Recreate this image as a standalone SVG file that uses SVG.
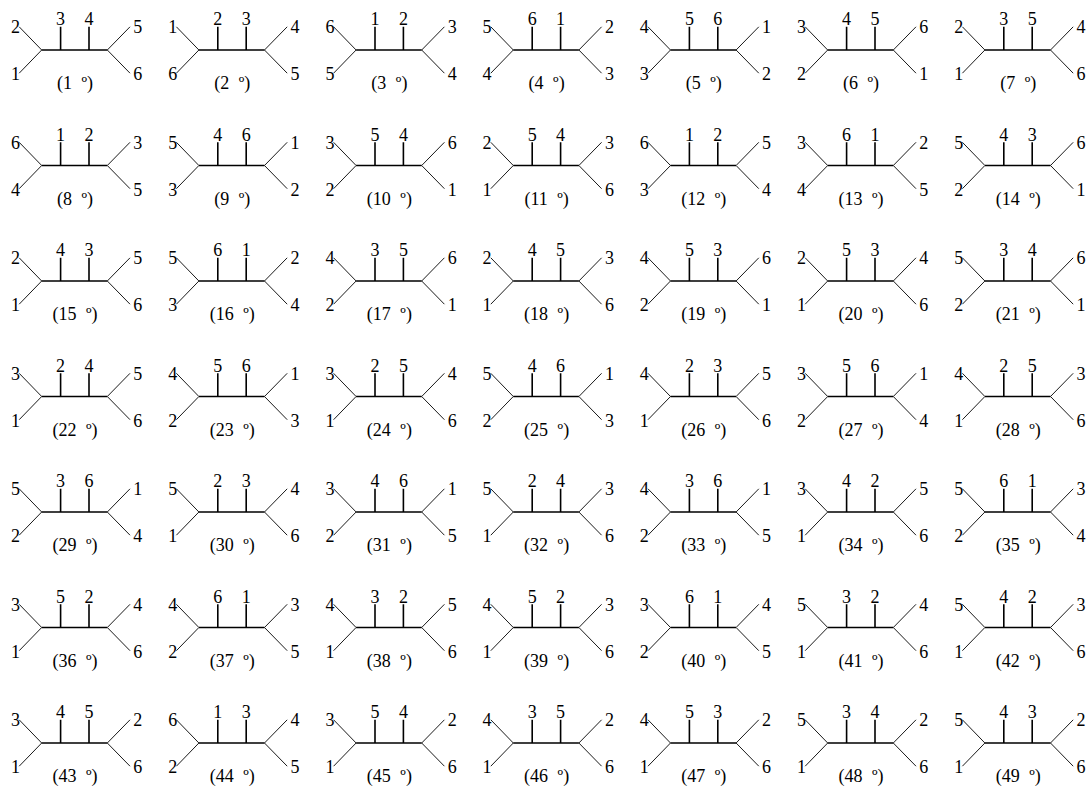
<svg xmlns="http://www.w3.org/2000/svg" width="1088" height="788" viewBox="0 0 1088 788">
<style>
.e{text-anchor:end}.m{text-anchor:middle}
.thk{stroke:#000;stroke-width:1.6;fill:none}
.thn{stroke:#000;stroke-width:0.9;fill:none}
text{font-family:"Liberation Serif","Times New Roman",Tinos,"DejaVu Serif",serif;font-size:18px;fill:#000}
</style>
<defs>
<g id="sk">
<path class="thk" d="M-32.8,0H32.8M-13.9,0V-23.3M14.5,0V-23.3"/>
<path class="thn" d="M-55.3,-23.2L-32.8,0L-55.3,23.2M55.5,-23.2L32.8,0L55.5,23.2"/>
</g>
</defs>
<rect width="1088" height="788" fill="#fff"/>
<g id="connectors">
<use href="#sk" x="74.5" y="50"/><use href="#sk" x="231.7" y="50"/><use href="#sk" x="388.9" y="50"/><use href="#sk" x="546.1" y="50"/><use href="#sk" x="703.3" y="50"/><use href="#sk" x="860.5" y="50"/><use href="#sk" x="1017.7" y="50"/>
<use href="#sk" x="74.5" y="165.5"/><use href="#sk" x="231.7" y="165.5"/><use href="#sk" x="388.9" y="165.5"/><use href="#sk" x="546.1" y="165.5"/><use href="#sk" x="703.3" y="165.5"/><use href="#sk" x="860.5" y="165.5"/><use href="#sk" x="1017.7" y="165.5"/>
<use href="#sk" x="74.5" y="281"/><use href="#sk" x="231.7" y="281"/><use href="#sk" x="388.9" y="281"/><use href="#sk" x="546.1" y="281"/><use href="#sk" x="703.3" y="281"/><use href="#sk" x="860.5" y="281"/><use href="#sk" x="1017.7" y="281"/>
<use href="#sk" x="74.5" y="396.5"/><use href="#sk" x="231.7" y="396.5"/><use href="#sk" x="388.9" y="396.5"/><use href="#sk" x="546.1" y="396.5"/><use href="#sk" x="703.3" y="396.5"/><use href="#sk" x="860.5" y="396.5"/><use href="#sk" x="1017.7" y="396.5"/>
<use href="#sk" x="74.5" y="512"/><use href="#sk" x="231.7" y="512"/><use href="#sk" x="388.9" y="512"/><use href="#sk" x="546.1" y="512"/><use href="#sk" x="703.3" y="512"/><use href="#sk" x="860.5" y="512"/><use href="#sk" x="1017.7" y="512"/>
<use href="#sk" x="74.5" y="627.5"/><use href="#sk" x="231.7" y="627.5"/><use href="#sk" x="388.9" y="627.5"/><use href="#sk" x="546.1" y="627.5"/><use href="#sk" x="703.3" y="627.5"/><use href="#sk" x="860.5" y="627.5"/><use href="#sk" x="1017.7" y="627.5"/>
<use href="#sk" x="74.5" y="743"/><use href="#sk" x="231.7" y="743"/><use href="#sk" x="388.9" y="743"/><use href="#sk" x="546.1" y="743"/><use href="#sk" x="703.3" y="743"/><use href="#sk" x="860.5" y="743"/><use href="#sk" x="1017.7" y="743"/>
</g>
<g id="labels">
<g id="t1" transform="translate(74.5,50)"><text class="e" x="-54.5" y="-16.7">2</text><text class="e" x="-54.5" y="30">1</text><text class="m" x="-13.9" y="-25">3</text><text class="m" x="14.5" y="-25">4</text><text x="58.8" y="-16.7">5</text><text x="58.8" y="30">6</text><text class="m" x="0.5" y="39.3">(1<tspan dx="5"> º)</tspan></text></g>
<g id="t2" transform="translate(231.7,50)"><text class="e" x="-54.5" y="-16.7">1</text><text class="e" x="-54.5" y="30">6</text><text class="m" x="-13.9" y="-25">2</text><text class="m" x="14.5" y="-25">3</text><text x="58.8" y="-16.7">4</text><text x="58.8" y="30">5</text><text class="m" x="0.5" y="39.3">(2<tspan dx="5"> º)</tspan></text></g>
<g id="t3" transform="translate(388.9,50)"><text class="e" x="-54.5" y="-16.7">6</text><text class="e" x="-54.5" y="30">5</text><text class="m" x="-13.9" y="-25">1</text><text class="m" x="14.5" y="-25">2</text><text x="58.8" y="-16.7">3</text><text x="58.8" y="30">4</text><text class="m" x="0.5" y="39.3">(3<tspan dx="5"> º)</tspan></text></g>
<g id="t4" transform="translate(546.1,50)"><text class="e" x="-54.5" y="-16.7">5</text><text class="e" x="-54.5" y="30">4</text><text class="m" x="-13.9" y="-25">6</text><text class="m" x="14.5" y="-25">1</text><text x="58.8" y="-16.7">2</text><text x="58.8" y="30">3</text><text class="m" x="0.5" y="39.3">(4<tspan dx="5"> º)</tspan></text></g>
<g id="t5" transform="translate(703.3,50)"><text class="e" x="-54.5" y="-16.7">4</text><text class="e" x="-54.5" y="30">3</text><text class="m" x="-13.9" y="-25">5</text><text class="m" x="14.5" y="-25">6</text><text x="58.8" y="-16.7">1</text><text x="58.8" y="30">2</text><text class="m" x="0.5" y="39.3">(5<tspan dx="5"> º)</tspan></text></g>
<g id="t6" transform="translate(860.5,50)"><text class="e" x="-54.5" y="-16.7">3</text><text class="e" x="-54.5" y="30">2</text><text class="m" x="-13.9" y="-25">4</text><text class="m" x="14.5" y="-25">5</text><text x="58.8" y="-16.7">6</text><text x="58.8" y="30">1</text><text class="m" x="0.5" y="39.3">(6<tspan dx="5"> º)</tspan></text></g>
<g id="t7" transform="translate(1017.7,50)"><text class="e" x="-54.5" y="-16.7">2</text><text class="e" x="-54.5" y="30">1</text><text class="m" x="-13.9" y="-25">3</text><text class="m" x="14.5" y="-25">5</text><text x="58.8" y="-16.7">4</text><text x="58.8" y="30">6</text><text class="m" x="0.5" y="39.3">(7<tspan dx="5"> º)</tspan></text></g>
<g id="t8" transform="translate(74.5,165.5)"><text class="e" x="-54.5" y="-16.7">6</text><text class="e" x="-54.5" y="30">4</text><text class="m" x="-13.9" y="-25">1</text><text class="m" x="14.5" y="-25">2</text><text x="58.8" y="-16.7">3</text><text x="58.8" y="30">5</text><text class="m" x="0.5" y="39.3">(8<tspan dx="5"> º)</tspan></text></g>
<g id="t9" transform="translate(231.7,165.5)"><text class="e" x="-54.5" y="-16.7">5</text><text class="e" x="-54.5" y="30">3</text><text class="m" x="-13.9" y="-25">4</text><text class="m" x="14.5" y="-25">6</text><text x="58.8" y="-16.7">1</text><text x="58.8" y="30">2</text><text class="m" x="0.5" y="39.3">(9<tspan dx="5"> º)</tspan></text></g>
<g id="t10" transform="translate(388.9,165.5)"><text class="e" x="-54.5" y="-16.7">3</text><text class="e" x="-54.5" y="30">2</text><text class="m" x="-13.9" y="-25">5</text><text class="m" x="14.5" y="-25">4</text><text x="58.8" y="-16.7">6</text><text x="58.8" y="30">1</text><text class="m" x="0.5" y="39.3">(10<tspan dx="5"> º)</tspan></text></g>
<g id="t11" transform="translate(546.1,165.5)"><text class="e" x="-54.5" y="-16.7">2</text><text class="e" x="-54.5" y="30">1</text><text class="m" x="-13.9" y="-25">5</text><text class="m" x="14.5" y="-25">4</text><text x="58.8" y="-16.7">3</text><text x="58.8" y="30">6</text><text class="m" x="0.5" y="39.3">(11<tspan dx="5"> º)</tspan></text></g>
<g id="t12" transform="translate(703.3,165.5)"><text class="e" x="-54.5" y="-16.7">6</text><text class="e" x="-54.5" y="30">3</text><text class="m" x="-13.9" y="-25">1</text><text class="m" x="14.5" y="-25">2</text><text x="58.8" y="-16.7">5</text><text x="58.8" y="30">4</text><text class="m" x="0.5" y="39.3">(12<tspan dx="5"> º)</tspan></text></g>
<g id="t13" transform="translate(860.5,165.5)"><text class="e" x="-54.5" y="-16.7">3</text><text class="e" x="-54.5" y="30">4</text><text class="m" x="-13.9" y="-25">6</text><text class="m" x="14.5" y="-25">1</text><text x="58.8" y="-16.7">2</text><text x="58.8" y="30">5</text><text class="m" x="0.5" y="39.3">(13<tspan dx="5"> º)</tspan></text></g>
<g id="t14" transform="translate(1017.7,165.5)"><text class="e" x="-54.5" y="-16.7">5</text><text class="e" x="-54.5" y="30">2</text><text class="m" x="-13.9" y="-25">4</text><text class="m" x="14.5" y="-25">3</text><text x="58.8" y="-16.7">6</text><text x="58.8" y="30">1</text><text class="m" x="0.5" y="39.3">(14<tspan dx="5"> º)</tspan></text></g>
<g id="t15" transform="translate(74.5,281)"><text class="e" x="-54.5" y="-16.7">2</text><text class="e" x="-54.5" y="30">1</text><text class="m" x="-13.9" y="-25">4</text><text class="m" x="14.5" y="-25">3</text><text x="58.8" y="-16.7">5</text><text x="58.8" y="30">6</text><text class="m" x="0.5" y="39.3">(15<tspan dx="5"> º)</tspan></text></g>
<g id="t16" transform="translate(231.7,281)"><text class="e" x="-54.5" y="-16.7">5</text><text class="e" x="-54.5" y="30">3</text><text class="m" x="-13.9" y="-25">6</text><text class="m" x="14.5" y="-25">1</text><text x="58.8" y="-16.7">2</text><text x="58.8" y="30">4</text><text class="m" x="0.5" y="39.3">(16<tspan dx="5"> º)</tspan></text></g>
<g id="t17" transform="translate(388.9,281)"><text class="e" x="-54.5" y="-16.7">4</text><text class="e" x="-54.5" y="30">2</text><text class="m" x="-13.9" y="-25">3</text><text class="m" x="14.5" y="-25">5</text><text x="58.8" y="-16.7">6</text><text x="58.8" y="30">1</text><text class="m" x="0.5" y="39.3">(17<tspan dx="5"> º)</tspan></text></g>
<g id="t18" transform="translate(546.1,281)"><text class="e" x="-54.5" y="-16.7">2</text><text class="e" x="-54.5" y="30">1</text><text class="m" x="-13.9" y="-25">4</text><text class="m" x="14.5" y="-25">5</text><text x="58.8" y="-16.7">3</text><text x="58.8" y="30">6</text><text class="m" x="0.5" y="39.3">(18<tspan dx="5"> º)</tspan></text></g>
<g id="t19" transform="translate(703.3,281)"><text class="e" x="-54.5" y="-16.7">4</text><text class="e" x="-54.5" y="30">2</text><text class="m" x="-13.9" y="-25">5</text><text class="m" x="14.5" y="-25">3</text><text x="58.8" y="-16.7">6</text><text x="58.8" y="30">1</text><text class="m" x="0.5" y="39.3">(19<tspan dx="5"> º)</tspan></text></g>
<g id="t20" transform="translate(860.5,281)"><text class="e" x="-54.5" y="-16.7">2</text><text class="e" x="-54.5" y="30">1</text><text class="m" x="-13.9" y="-25">5</text><text class="m" x="14.5" y="-25">3</text><text x="58.8" y="-16.7">4</text><text x="58.8" y="30">6</text><text class="m" x="0.5" y="39.3">(20<tspan dx="5"> º)</tspan></text></g>
<g id="t21" transform="translate(1017.7,281)"><text class="e" x="-54.5" y="-16.7">5</text><text class="e" x="-54.5" y="30">2</text><text class="m" x="-13.9" y="-25">3</text><text class="m" x="14.5" y="-25">4</text><text x="58.8" y="-16.7">6</text><text x="58.8" y="30">1</text><text class="m" x="0.5" y="39.3">(21<tspan dx="5"> º)</tspan></text></g>
<g id="t22" transform="translate(74.5,396.5)"><text class="e" x="-54.5" y="-16.7">3</text><text class="e" x="-54.5" y="30">1</text><text class="m" x="-13.9" y="-25">2</text><text class="m" x="14.5" y="-25">4</text><text x="58.8" y="-16.7">5</text><text x="58.8" y="30">6</text><text class="m" x="0.5" y="39.3">(22<tspan dx="5"> º)</tspan></text></g>
<g id="t23" transform="translate(231.7,396.5)"><text class="e" x="-54.5" y="-16.7">4</text><text class="e" x="-54.5" y="30">2</text><text class="m" x="-13.9" y="-25">5</text><text class="m" x="14.5" y="-25">6</text><text x="58.8" y="-16.7">1</text><text x="58.8" y="30">3</text><text class="m" x="0.5" y="39.3">(23<tspan dx="5"> º)</tspan></text></g>
<g id="t24" transform="translate(388.9,396.5)"><text class="e" x="-54.5" y="-16.7">3</text><text class="e" x="-54.5" y="30">1</text><text class="m" x="-13.9" y="-25">2</text><text class="m" x="14.5" y="-25">5</text><text x="58.8" y="-16.7">4</text><text x="58.8" y="30">6</text><text class="m" x="0.5" y="39.3">(24<tspan dx="5"> º)</tspan></text></g>
<g id="t25" transform="translate(546.1,396.5)"><text class="e" x="-54.5" y="-16.7">5</text><text class="e" x="-54.5" y="30">2</text><text class="m" x="-13.9" y="-25">4</text><text class="m" x="14.5" y="-25">6</text><text x="58.8" y="-16.7">1</text><text x="58.8" y="30">3</text><text class="m" x="0.5" y="39.3">(25<tspan dx="5"> º)</tspan></text></g>
<g id="t26" transform="translate(703.3,396.5)"><text class="e" x="-54.5" y="-16.7">4</text><text class="e" x="-54.5" y="30">1</text><text class="m" x="-13.9" y="-25">2</text><text class="m" x="14.5" y="-25">3</text><text x="58.8" y="-16.7">5</text><text x="58.8" y="30">6</text><text class="m" x="0.5" y="39.3">(26<tspan dx="5"> º)</tspan></text></g>
<g id="t27" transform="translate(860.5,396.5)"><text class="e" x="-54.5" y="-16.7">3</text><text class="e" x="-54.5" y="30">2</text><text class="m" x="-13.9" y="-25">5</text><text class="m" x="14.5" y="-25">6</text><text x="58.8" y="-16.7">1</text><text x="58.8" y="30">4</text><text class="m" x="0.5" y="39.3">(27<tspan dx="5"> º)</tspan></text></g>
<g id="t28" transform="translate(1017.7,396.5)"><text class="e" x="-54.5" y="-16.7">4</text><text class="e" x="-54.5" y="30">1</text><text class="m" x="-13.9" y="-25">2</text><text class="m" x="14.5" y="-25">5</text><text x="58.8" y="-16.7">3</text><text x="58.8" y="30">6</text><text class="m" x="0.5" y="39.3">(28<tspan dx="5"> º)</tspan></text></g>
<g id="t29" transform="translate(74.5,512)"><text class="e" x="-54.5" y="-16.7">5</text><text class="e" x="-54.5" y="30">2</text><text class="m" x="-13.9" y="-25">3</text><text class="m" x="14.5" y="-25">6</text><text x="58.8" y="-16.7">1</text><text x="58.8" y="30">4</text><text class="m" x="0.5" y="39.3">(29<tspan dx="5"> º)</tspan></text></g>
<g id="t30" transform="translate(231.7,512)"><text class="e" x="-54.5" y="-16.7">5</text><text class="e" x="-54.5" y="30">1</text><text class="m" x="-13.9" y="-25">2</text><text class="m" x="14.5" y="-25">3</text><text x="58.8" y="-16.7">4</text><text x="58.8" y="30">6</text><text class="m" x="0.5" y="39.3">(30<tspan dx="5"> º)</tspan></text></g>
<g id="t31" transform="translate(388.9,512)"><text class="e" x="-54.5" y="-16.7">3</text><text class="e" x="-54.5" y="30">2</text><text class="m" x="-13.9" y="-25">4</text><text class="m" x="14.5" y="-25">6</text><text x="58.8" y="-16.7">1</text><text x="58.8" y="30">5</text><text class="m" x="0.5" y="39.3">(31<tspan dx="5"> º)</tspan></text></g>
<g id="t32" transform="translate(546.1,512)"><text class="e" x="-54.5" y="-16.7">5</text><text class="e" x="-54.5" y="30">1</text><text class="m" x="-13.9" y="-25">2</text><text class="m" x="14.5" y="-25">4</text><text x="58.8" y="-16.7">3</text><text x="58.8" y="30">6</text><text class="m" x="0.5" y="39.3">(32<tspan dx="5"> º)</tspan></text></g>
<g id="t33" transform="translate(703.3,512)"><text class="e" x="-54.5" y="-16.7">4</text><text class="e" x="-54.5" y="30">2</text><text class="m" x="-13.9" y="-25">3</text><text class="m" x="14.5" y="-25">6</text><text x="58.8" y="-16.7">1</text><text x="58.8" y="30">5</text><text class="m" x="0.5" y="39.3">(33<tspan dx="5"> º)</tspan></text></g>
<g id="t34" transform="translate(860.5,512)"><text class="e" x="-54.5" y="-16.7">3</text><text class="e" x="-54.5" y="30">1</text><text class="m" x="-13.9" y="-25">4</text><text class="m" x="14.5" y="-25">2</text><text x="58.8" y="-16.7">5</text><text x="58.8" y="30">6</text><text class="m" x="0.5" y="39.3">(34<tspan dx="5"> º)</tspan></text></g>
<g id="t35" transform="translate(1017.7,512)"><text class="e" x="-54.5" y="-16.7">5</text><text class="e" x="-54.5" y="30">2</text><text class="m" x="-13.9" y="-25">6</text><text class="m" x="14.5" y="-25">1</text><text x="58.8" y="-16.7">3</text><text x="58.8" y="30">4</text><text class="m" x="0.5" y="39.3">(35<tspan dx="5"> º)</tspan></text></g>
<g id="t36" transform="translate(74.5,627.5)"><text class="e" x="-54.5" y="-16.7">3</text><text class="e" x="-54.5" y="30">1</text><text class="m" x="-13.9" y="-25">5</text><text class="m" x="14.5" y="-25">2</text><text x="58.8" y="-16.7">4</text><text x="58.8" y="30">6</text><text class="m" x="0.5" y="39.3">(36<tspan dx="5"> º)</tspan></text></g>
<g id="t37" transform="translate(231.7,627.5)"><text class="e" x="-54.5" y="-16.7">4</text><text class="e" x="-54.5" y="30">2</text><text class="m" x="-13.9" y="-25">6</text><text class="m" x="14.5" y="-25">1</text><text x="58.8" y="-16.7">3</text><text x="58.8" y="30">5</text><text class="m" x="0.5" y="39.3">(37<tspan dx="5"> º)</tspan></text></g>
<g id="t38" transform="translate(388.9,627.5)"><text class="e" x="-54.5" y="-16.7">4</text><text class="e" x="-54.5" y="30">1</text><text class="m" x="-13.9" y="-25">3</text><text class="m" x="14.5" y="-25">2</text><text x="58.8" y="-16.7">5</text><text x="58.8" y="30">6</text><text class="m" x="0.5" y="39.3">(38<tspan dx="5"> º)</tspan></text></g>
<g id="t39" transform="translate(546.1,627.5)"><text class="e" x="-54.5" y="-16.7">4</text><text class="e" x="-54.5" y="30">1</text><text class="m" x="-13.9" y="-25">5</text><text class="m" x="14.5" y="-25">2</text><text x="58.8" y="-16.7">3</text><text x="58.8" y="30">6</text><text class="m" x="0.5" y="39.3">(39<tspan dx="5"> º)</tspan></text></g>
<g id="t40" transform="translate(703.3,627.5)"><text class="e" x="-54.5" y="-16.7">3</text><text class="e" x="-54.5" y="30">2</text><text class="m" x="-13.9" y="-25">6</text><text class="m" x="14.5" y="-25">1</text><text x="58.8" y="-16.7">4</text><text x="58.8" y="30">5</text><text class="m" x="0.5" y="39.3">(40<tspan dx="5"> º)</tspan></text></g>
<g id="t41" transform="translate(860.5,627.5)"><text class="e" x="-54.5" y="-16.7">5</text><text class="e" x="-54.5" y="30">1</text><text class="m" x="-13.9" y="-25">3</text><text class="m" x="14.5" y="-25">2</text><text x="58.8" y="-16.7">4</text><text x="58.8" y="30">6</text><text class="m" x="0.5" y="39.3">(41<tspan dx="5"> º)</tspan></text></g>
<g id="t42" transform="translate(1017.7,627.5)"><text class="e" x="-54.5" y="-16.7">5</text><text class="e" x="-54.5" y="30">1</text><text class="m" x="-13.9" y="-25">4</text><text class="m" x="14.5" y="-25">2</text><text x="58.8" y="-16.7">3</text><text x="58.8" y="30">6</text><text class="m" x="0.5" y="39.3">(42<tspan dx="5"> º)</tspan></text></g>
<g id="t43" transform="translate(74.5,743)"><text class="e" x="-54.5" y="-16.7">3</text><text class="e" x="-54.5" y="30">1</text><text class="m" x="-13.9" y="-25">4</text><text class="m" x="14.5" y="-25">5</text><text x="58.8" y="-16.7">2</text><text x="58.8" y="30">6</text><text class="m" x="0.5" y="39.3">(43<tspan dx="5"> º)</tspan></text></g>
<g id="t44" transform="translate(231.7,743)"><text class="e" x="-54.5" y="-16.7">6</text><text class="e" x="-54.5" y="30">2</text><text class="m" x="-13.9" y="-25">1</text><text class="m" x="14.5" y="-25">3</text><text x="58.8" y="-16.7">4</text><text x="58.8" y="30">5</text><text class="m" x="0.5" y="39.3">(44<tspan dx="5"> º)</tspan></text></g>
<g id="t45" transform="translate(388.9,743)"><text class="e" x="-54.5" y="-16.7">3</text><text class="e" x="-54.5" y="30">1</text><text class="m" x="-13.9" y="-25">5</text><text class="m" x="14.5" y="-25">4</text><text x="58.8" y="-16.7">2</text><text x="58.8" y="30">6</text><text class="m" x="0.5" y="39.3">(45<tspan dx="5"> º)</tspan></text></g>
<g id="t46" transform="translate(546.1,743)"><text class="e" x="-54.5" y="-16.7">4</text><text class="e" x="-54.5" y="30">1</text><text class="m" x="-13.9" y="-25">3</text><text class="m" x="14.5" y="-25">5</text><text x="58.8" y="-16.7">2</text><text x="58.8" y="30">6</text><text class="m" x="0.5" y="39.3">(46<tspan dx="5"> º)</tspan></text></g>
<g id="t47" transform="translate(703.3,743)"><text class="e" x="-54.5" y="-16.7">4</text><text class="e" x="-54.5" y="30">1</text><text class="m" x="-13.9" y="-25">5</text><text class="m" x="14.5" y="-25">3</text><text x="58.8" y="-16.7">2</text><text x="58.8" y="30">6</text><text class="m" x="0.5" y="39.3">(47<tspan dx="5"> º)</tspan></text></g>
<g id="t48" transform="translate(860.5,743)"><text class="e" x="-54.5" y="-16.7">5</text><text class="e" x="-54.5" y="30">1</text><text class="m" x="-13.9" y="-25">3</text><text class="m" x="14.5" y="-25">4</text><text x="58.8" y="-16.7">2</text><text x="58.8" y="30">6</text><text class="m" x="0.5" y="39.3">(48<tspan dx="5"> º)</tspan></text></g>
<g id="t49" transform="translate(1017.7,743)"><text class="e" x="-54.5" y="-16.7">5</text><text class="e" x="-54.5" y="30">1</text><text class="m" x="-13.9" y="-25">4</text><text class="m" x="14.5" y="-25">3</text><text x="58.8" y="-16.7">2</text><text x="58.8" y="30">6</text><text class="m" x="0.5" y="39.3">(49<tspan dx="5"> º)</tspan></text></g>
</g>
</svg>
